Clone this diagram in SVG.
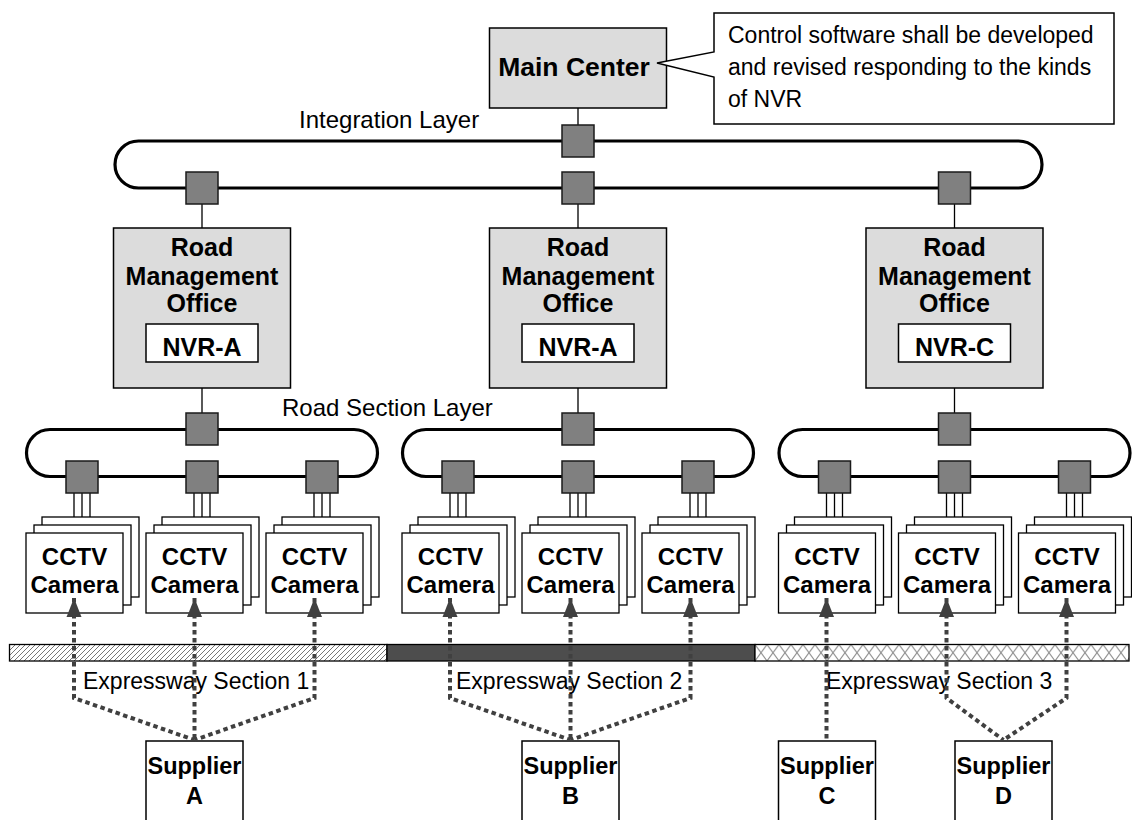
<svg xmlns="http://www.w3.org/2000/svg" width="1132" height="820" viewBox="0 0 1132 820">
<style>
  .box{fill:#dcdcdc;stroke:#000;stroke-width:1.5}
  .wbox{fill:#fff;stroke:#000;stroke-width:1.5}
  .ring{fill:none;stroke:#000;stroke-width:3.2}
  .sw{fill:#808080;stroke:#1a1a1a;stroke-width:1.5}
  .wire{fill:none;stroke:#000;stroke-width:1.3}
  .card{fill:#fff;stroke:#000;stroke-width:1.3}
  .b{font-family:"Liberation Sans",Arial,sans-serif;font-weight:bold;fill:#000;text-anchor:middle}
  .r{font-family:"Liberation Sans",Arial,sans-serif;fill:#000}
  .dot{fill:none;stroke:#404040;stroke-width:4;stroke-dasharray:4.5 3.5;marker-start:url(#ah)}
  .bar{stroke:#000;stroke-width:1.3}
</style>
<defs>
  <marker id="ah" markerUnits="userSpaceOnUse" markerWidth="20" markerHeight="16" viewBox="0 0 20 16" refX="19" refY="8" orient="auto-start-reverse">
    <path d="M0,0.5 L19,8 L0,15.5 z" fill="#404040"/>
  </marker>
  <pattern id="hatch" patternUnits="userSpaceOnUse" x="0" y="0" width="5" height="5">
    <rect width="5" height="5" fill="#fff"/>
    <path d="M0,5 L5,0 M-1,1 L1,-1 M4,6 L6,4" stroke="#777" stroke-width="1"/>
  </pattern>
  <pattern id="cross" patternUnits="userSpaceOnUse" x="755" y="644.5" width="12" height="16.5">
    <rect width="12" height="16.5" fill="#fff"/>
    <path d="M0,0 L12,16.5 M12,0 L0,16.5" stroke="#8a8a8a" stroke-width="1"/>
  </pattern>
</defs>

<!-- network rings -->
<g id="rings">
  <rect class="ring" x="115" y="141" width="927" height="47" rx="23.5"/>
  <rect class="ring" x="26.5" y="429.5" width="351" height="47" rx="23.5"/>
  <rect class="ring" x="402.5" y="429.5" width="351" height="47" rx="23.5"/>
  <rect class="ring" x="779" y="429.5" width="351" height="47" rx="23.5"/>
  <text class="r" x="299" y="128" font-size="24">Integration Layer</text>
  <text class="r" x="282" y="416" font-size="24">Road Section Layer</text>
</g>

<!-- connectors -->
<g id="connectors">
  <path class="wire" d="M578,108 V125 M202,204 V228 M578,204 V228 M954.5,204 V228 M202,362 V413 M578,362 V413 M954.5,362 V413"/>
  <path class="wire" d="M74,493 V533 M82,493 V525 M90,493 V517 M194,493 V533 M202,493 V525 M210,493 V517 M314,493 V533 M322,493 V525 M330,493 V517"/>
  <path class="wire" d="M450,493 V533 M458,493 V525 M466,493 V517 M570,493 V533 M578,493 V525 M586,493 V517 M690,493 V533 M698,493 V525 M706,493 V517"/>
  <path class="wire" d="M826.5,493 V533 M834.5,493 V525 M842.5,493 V517 M946.5,493 V533 M954.5,493 V525 M962.5,493 V517 M1066.5,493 V533 M1074.5,493 V525 M1082.5,493 V517"/>
</g>

<!-- switches -->
<g id="switches">
  <rect class="sw" x="562" y="125" width="32" height="32"/>
  <rect class="sw" x="186" y="172" width="32" height="32"/>
  <rect class="sw" x="562" y="172" width="32" height="32"/>
  <rect class="sw" x="938.5" y="172" width="32" height="32"/>
  <rect class="sw" x="186" y="413" width="32" height="32"/>
  <rect class="sw" x="562" y="413" width="32" height="32"/>
  <rect class="sw" x="938.5" y="413" width="32" height="32"/>
  <rect class="sw" x="66" y="461" width="32" height="32"/>
  <rect class="sw" x="186" y="461" width="32" height="32"/>
  <rect class="sw" x="306" y="461" width="32" height="32"/>
  <rect class="sw" x="442" y="461" width="32" height="32"/>
  <rect class="sw" x="562" y="461" width="32" height="32"/>
  <rect class="sw" x="682" y="461" width="32" height="32"/>
  <rect class="sw" x="818.5" y="461" width="32" height="32"/>
  <rect class="sw" x="938.5" y="461" width="32" height="32"/>
  <rect class="sw" x="1058.5" y="461" width="32" height="32"/>
</g>

<!-- main center and note -->
<g id="main-center">
  <rect class="box" x="489.5" y="28" width="177" height="80"/>
  <text class="b" x="574" y="76" font-size="26.5">Main Center</text>
</g>
<g id="note">
  <path class="wbox" d="M714,13 H1114 V124 H714 V77 L657,63 L714,52 Z"/>
  <text class="r" x="728" y="43" font-size="23">Control software shall be developed</text>
  <text class="r" x="728" y="75" font-size="23">and revised responding to the kinds</text>
  <text class="r" x="728" y="107" font-size="23">of NVR</text>
</g>

<!-- road management offices -->
<g id="rmo-1">
  <rect class="box" x="113.5" y="228" width="177" height="160"/>
  <text class="b" x="202" y="256" font-size="25">Road</text>
  <text class="b" x="202" y="285" font-size="25">Management</text>
  <text class="b" x="202" y="312" font-size="25">Office</text>
  <rect class="wbox" x="146" y="324" width="112" height="38"/>
  <text class="b" x="202" y="356" font-size="25">NVR-A</text>
</g>
<g id="rmo-2">
  <rect class="box" x="489.5" y="228" width="177" height="160"/>
  <text class="b" x="578" y="256" font-size="25">Road</text>
  <text class="b" x="578" y="285" font-size="25">Management</text>
  <text class="b" x="578" y="312" font-size="25">Office</text>
  <rect class="wbox" x="522" y="324" width="112" height="38"/>
  <text class="b" x="578" y="356" font-size="25">NVR-A</text>
</g>
<g id="rmo-3">
  <rect class="box" x="866" y="228" width="177" height="160"/>
  <text class="b" x="954.5" y="256" font-size="25">Road</text>
  <text class="b" x="954.5" y="285" font-size="25">Management</text>
  <text class="b" x="954.5" y="312" font-size="25">Office</text>
  <rect class="wbox" x="898.5" y="324" width="112" height="38"/>
  <text class="b" x="954.5" y="356" font-size="25">NVR-C</text>
</g>

<!-- camera stacks: three cards each -->
<g id="cams-1a">
  <rect class="card" x="42" y="517" width="97" height="80"/><rect class="card" x="34" y="525" width="97" height="80"/><rect class="card" x="26" y="533" width="97" height="80"/>
  <text class="b" x="74.5" y="565" font-size="24">CCTV</text><text class="b" x="74.5" y="593" font-size="24">Camera</text>
</g>
<g id="cams-1b">
  <rect class="card" x="162" y="517" width="97" height="80"/><rect class="card" x="154" y="525" width="97" height="80"/><rect class="card" x="146" y="533" width="97" height="80"/>
  <text class="b" x="194.5" y="565" font-size="24">CCTV</text><text class="b" x="194.5" y="593" font-size="24">Camera</text>
</g>
<g id="cams-1c">
  <rect class="card" x="282" y="517" width="97" height="80"/><rect class="card" x="274" y="525" width="97" height="80"/><rect class="card" x="266" y="533" width="97" height="80"/>
  <text class="b" x="314.5" y="565" font-size="24">CCTV</text><text class="b" x="314.5" y="593" font-size="24">Camera</text>
</g>
<g id="cams-2a">
  <rect class="card" x="418" y="517" width="97" height="80"/><rect class="card" x="410" y="525" width="97" height="80"/><rect class="card" x="402" y="533" width="97" height="80"/>
  <text class="b" x="450.5" y="565" font-size="24">CCTV</text><text class="b" x="450.5" y="593" font-size="24">Camera</text>
</g>
<g id="cams-2b">
  <rect class="card" x="538" y="517" width="97" height="80"/><rect class="card" x="530" y="525" width="97" height="80"/><rect class="card" x="522" y="533" width="97" height="80"/>
  <text class="b" x="570.5" y="565" font-size="24">CCTV</text><text class="b" x="570.5" y="593" font-size="24">Camera</text>
</g>
<g id="cams-2c">
  <rect class="card" x="658" y="517" width="97" height="80"/><rect class="card" x="650" y="525" width="97" height="80"/><rect class="card" x="642" y="533" width="97" height="80"/>
  <text class="b" x="690.5" y="565" font-size="24">CCTV</text><text class="b" x="690.5" y="593" font-size="24">Camera</text>
</g>
<g id="cams-3a">
  <rect class="card" x="794.5" y="517" width="97" height="80"/><rect class="card" x="786.5" y="525" width="97" height="80"/><rect class="card" x="778.5" y="533" width="97" height="80"/>
  <text class="b" x="827" y="565" font-size="24">CCTV</text><text class="b" x="827" y="593" font-size="24">Camera</text>
</g>
<g id="cams-3b">
  <rect class="card" x="914.5" y="517" width="97" height="80"/><rect class="card" x="906.5" y="525" width="97" height="80"/><rect class="card" x="898.5" y="533" width="97" height="80"/>
  <text class="b" x="947" y="565" font-size="24">CCTV</text><text class="b" x="947" y="593" font-size="24">Camera</text>
</g>
<g id="cams-3c">
  <rect class="card" x="1034.5" y="517" width="97" height="80"/><rect class="card" x="1026.5" y="525" width="97" height="80"/><rect class="card" x="1018.5" y="533" width="97" height="80"/>
  <text class="b" x="1067" y="565" font-size="24">CCTV</text><text class="b" x="1067" y="593" font-size="24">Camera</text>
</g>

<!-- expressway sections -->
<g id="expressway">
  <rect class="bar" x="9.5" y="644.5" width="377.5" height="16.5" fill="url(#hatch)"/>
  <rect class="bar" x="387" y="644.5" width="368" height="16.5" fill="#4d4d4d"/>
  <rect class="bar" x="755" y="644.5" width="374" height="16.5" fill="url(#cross)"/>
  <text class="r" x="83" y="689" font-size="23">Expressway Section 1</text>
  <text class="r" x="456" y="689" font-size="23">Expressway Section 2</text>
  <text class="r" x="826" y="689" font-size="23">Expressway Section 3</text>
</g>

<!-- suppliers -->
<g id="supplier-a">
  <rect class="wbox" x="146" y="741" width="97" height="90"/>
  <text class="b" x="194.5" y="774" font-size="23.5">Supplier</text><text class="b" x="194.5" y="804" font-size="23.5">A</text>
</g>
<g id="supplier-b">
  <rect class="wbox" x="522" y="741" width="97" height="90"/>
  <text class="b" x="570.5" y="774" font-size="23.5">Supplier</text><text class="b" x="570.5" y="804" font-size="23.5">B</text>
</g>
<g id="supplier-c">
  <rect class="wbox" x="778.5" y="741" width="97" height="90"/>
  <text class="b" x="827" y="774" font-size="23.5">Supplier</text><text class="b" x="827" y="804" font-size="23.5">C</text>
</g>
<g id="supplier-d">
  <rect class="wbox" x="955" y="741" width="97" height="90"/>
  <text class="b" x="1003.5" y="774" font-size="23.5">Supplier</text><text class="b" x="1003.5" y="804" font-size="23.5">D</text>
</g>

<!-- supply lines -->
<g id="supply-lines">
  <path class="dot" d="M74,598 V698 L194.5,740"/>
  <path class="dot" d="M194.5,598 V740"/>
  <path class="dot" d="M314.5,598 V698 L194.5,740"/>
  <path class="dot" d="M450,598 V698 L570.5,740"/>
  <path class="dot" d="M570.5,598 V740"/>
  <path class="dot" d="M690.5,598 V698 L570.5,740"/>
  <path class="dot" d="M826.5,598 V740"/>
  <path class="dot" d="M946.5,598 V698 L1003.5,740"/>
  <path class="dot" d="M1066.5,598 V698 L1003.5,740"/>
</g>
</svg>
